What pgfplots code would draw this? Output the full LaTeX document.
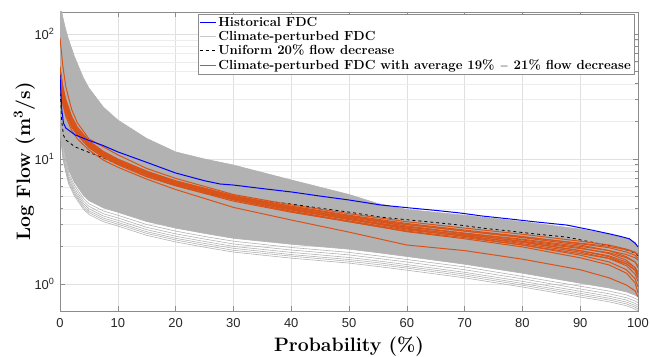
\documentclass[border=0pt]{standalone}
\usepackage{pgfplots}
\pgfplotsset{compat=1.18}
\usepackage{pgfplotstable}
\usepgfplotslibrary{fillbetween}
\usepackage{fontspec}
\setsansfont{Liberation Sans}
\definecolor{mlorange}{RGB}{217,83,25}
\definecolor{fdcgrey}{rgb}{0.70,0.70,0.70}
\definecolor{axgrey}{rgb}{0.55,0.55,0.55}

\pgfplotstableread{
x     U     L1    L2    L3    L4    L5    L6    L7
0     180   17    17.6  18.2  18.9  19.7  20.7  21.9
0.5   135   10    10.35 10.7  11.1  11.6  12.2  12.9
1     108   7.8   8.07  8.35  8.66  9.05  9.52  10.06
1.5   90    6.3   6.52  6.74  6.99  7.31  7.69  8.13
2.5   66    5.05  5.23  5.40  5.61  5.86  6.16  6.51
4     45    4.0   4.14  4.28  4.44  4.64  4.88  5.16
5     37    3.6   3.73  3.85  4.0   4.18  4.39  4.64
7.5   26    3.15  3.26  3.37  3.50  3.65  3.84  4.06
10    20.5  2.91  3.01  3.11  3.23  3.38  3.55  3.75
15    14.6  2.45  2.54  2.62  2.72  2.84  2.99  3.16
20    11.4  2.17  2.25  2.32  2.41  2.52  2.65  2.80
25    10.0  1.97  2.04  2.11  2.19  2.29  2.40  2.54
30    8.95  1.80  1.86  1.93  2.0   2.09  2.20  2.32
40    6.8   1.61  1.67  1.72  1.79  1.87  1.96  2.08
50    5.2   1.47  1.52  1.57  1.63  1.71  1.79  1.90
55    4.4   1.38  1.43  1.48  1.53  1.60  1.68  1.78
60    3.95  1.29  1.34  1.38  1.43  1.50  1.57  1.66
70    3.55  1.12  1.16  1.20  1.24  1.30  1.37  1.44
80    3.15  0.946 0.979 1.01  1.05  1.10  1.15  1.22
90    2.75  0.787 0.815 0.842 0.874 0.913 0.960 1.015
95    2.5   0.72  0.745 0.770 0.799 0.835 0.878 0.929
98    2.33  0.67  0.693 0.717 0.744 0.777 0.817 0.864
99.5  2.15  0.63  0.652 0.674 0.699 0.731 0.769 0.813
100   1.95  0.61  0.631 0.653 0.677 0.708 0.744 0.787
}\greytab

\pgfplotstableread{
x     o1   o2   o3   o4   o5   o6   o7   o8   o9   o10  o11  o12  o13  o14
0     93   53   48   45   55   42   50   40   38   44   47   41   52   46
0.5   55   38   34   32   36   31   35   29   27   32   33   30   37   33
1     38   30   27   25   28   25   27   23   22   25.5 26   24   29   26
2     25   22   20   19   21   19.5 20   18   17   19.5 19.8 18.5 21.5 20
3     19.5 18   16.5 16   17   16.5 16.5 15.5 14.5 16.2 16.4 15.6 17.5 16.5
5     14.5 14   13.2 12.8 13.5 13.0 13.0 12.3 11.8 12.9 13.1 12.5 13.8 13.3
7.5   12.5 11.5 11.0 10.6 11.2 10.8 10.9 10.3 9.8  10.7 10.9 10.5 11.4 11.0
10    10.8 10.0 9.6  9.3  9.8  9.4  9.5  9.0  8.6  9.35 9.5  9.15 9.9  9.6
15    8.4  8.0  7.7  7.5  7.8  7.6  7.6  7.2  6.9  7.45 7.6  7.3  7.9  7.65
20    7.0  6.7  6.5  6.3  6.6  6.4  6.35 6.1  5.7  6.25 6.4  6.15 6.65 6.45
30    5.2  5.1  5.0  4.85 5.0  4.9  4.75 4.6  4.1  4.8  4.95 4.7  5.05 4.9
40    4.3  4.2  4.1  4.0  4.05 3.95 3.8  3.75 3.25 3.9  4.0  3.82 4.15 3.95
50    3.65 3.55 3.5  3.4  3.35 3.3  3.15 3.15 2.6  3.28 3.45 3.2  3.5  3.3
60    3.15 3.05 3.0  2.9  2.8  2.75 2.62 2.65 2.05 2.78 2.98 2.7  2.9  2.85
70    2.8  2.7  2.65 2.55 2.45 2.4  2.3  2.35 1.85 2.48 2.65 2.42 2.52 2.55
80    2.5  2.4  2.35 2.25 2.1  2.05 1.98 2.05 1.58 2.2  2.38 2.15 2.18 2.28
90    2.2  2.1  2.05 1.95 1.8  1.7  1.62 1.75 1.3  1.92 2.12 1.85 1.85 2.0
95    2.05 1.95 1.85 1.75 1.6  1.5  1.42 1.6  1.12 1.78 2.0  1.68 1.65 1.85
98    1.9  1.8  1.65 1.55 1.4  1.3  1.22 1.45 0.98 1.62 1.88 1.5  1.45 1.72
99.5  1.8  1.7  1.5  1.35 1.2  1.1  1.02 1.3  0.88 1.5  1.78 1.35 1.28 1.62
100   1.72 1.6  1.35 1.2  1.05 0.95 0.85 1.15 0.79 1.4  1.7  1.25 1.12 1.55
}\orangetab

\pgfplotstableread{
x     hist   unif
0     47     37.6
0.3   25     20.0
0.6   19.4   15.5
1     17.7   14.2
2.6   15.6   12.5
4.8   14.2   11.4
7.5   12.8   10.2
10    11.4   9.12
15    9.4    7.52
20    7.73   6.18
25    6.7    5.36
27.7  6.31   5.05
30    6.19   4.95
35    5.8    4.64
40    5.45   4.36
45    5.05   4.04
50    4.70   3.76
55.4  4.29   3.43
60.5  4.06   3.25
65    3.88   3.10
69.2  3.70   2.96
73    3.50   2.80
77.9  3.31   2.65
82    3.15   2.52
87.7  2.96   2.37
92    2.70   2.16
95.2  2.51   2.01
97    2.40   1.92
98.5  2.30   1.85
99.5  2.12   1.76
100   1.98   1.68
}\histtab

\begin{document}
\begin{tikzpicture}
\begin{axis}[
  at={(60bp,46bp)}, anchor=south west,
  scale only axis, width=578bp, height=299bp,
  xmin=0, xmax=100, ymode=log, ymin=0.608, ymax=150,
  xtick={0,10,...,100},
  ytick={1,10,100},
  yticklabels={10\textsuperscript{0},10\textsuperscript{1},10\textsuperscript{2}},
  /pgf/number format/assume math mode=true,
  tick align=inside,
  major tick length=5bp, minor tick length=3bp,
  tick style={axgrey, line width=0.5bp},
  axis line style={axgrey, line width=0.6bp},
  grid=both,
  major grid style={black!12, line width=0.5bp},
  minor grid style={black!7, line width=0.4bp},
  ticklabel style={font=\sffamily\fontsize{13}{13}\selectfont, text=black!85},
  xticklabel style={yshift=-4bp},
  yticklabel style={xshift=-2bp},
  xlabel={Probability (\%)},
  ylabel={Log Flow (m\textsuperscript{3}/s)},
  label style={font=\fontsize{19.5}{20}\selectfont\bfseries},
  xlabel style={at={(axis description cs:0.5,-0.1338)}, anchor=base},
  ylabel style={at={(axis description cs:-0.0519,0.5)}, anchor=base},
  legend style={at={(rel axis cs:0.993,0.993)}, anchor=north east,
    font=\fontsize{13.2}{15}\selectfont, draw=axgrey,
    inner sep=1bp, row sep=-0.8bp},
  legend cell align=left,
  legend image code/.code={\draw[#1] (0bp,0bp) -- (16bp,0bp);},
]
\addlegendimage{blue, line width=1.1bp}
\addlegendentry{\textbf{Historical FDC}}
\addlegendimage{black!22, line width=1.3bp}
\addlegendentry{\textbf{Climate-perturbed FDC}}
\addlegendimage{black, dashed, line width=0.9bp}
\addlegendentry{\textbf{Uniform 20\% flow decrease}}
\addlegendimage{color=mlorange, line width=1.3bp}
\addlegendentry{\textbf{Climate-perturbed FDC with average 19\% $-$ 21\% flow decrease}}

% grey ensemble
\addplot[fdcgrey, line width=0.6bp, name path=U, forget plot] table[x=x,y=U] {\greytab};
\addplot[fdcgrey, line width=0.6bp, name path=L, forget plot] table[x=x,y=L7] {\greytab};
\addplot[fdcgrey, forget plot] fill between[of=U and L];
\addplot[fdcgrey, line width=0.6bp, forget plot] table[x=x,y=L1] {\greytab};
\addplot[fdcgrey, line width=0.6bp, forget plot] table[x=x,y=L2] {\greytab};
\addplot[fdcgrey, line width=0.6bp, forget plot] table[x=x,y=L3] {\greytab};
\addplot[fdcgrey, line width=0.6bp, forget plot] table[x=x,y=L4] {\greytab};
\addplot[fdcgrey, line width=0.6bp, forget plot] table[x=x,y=L5] {\greytab};
\addplot[fdcgrey, line width=0.6bp, forget plot] table[x=x,y=L6] {\greytab};

% uniform decrease
\addplot[black, dashed, line width=0.8bp, forget plot] table[x=x,y=unif] {\histtab};

% orange
\addplot[mlorange, line width=1bp, forget plot] table[x=x,y=o1] {\orangetab};
\addplot[mlorange, line width=1bp, forget plot] table[x=x,y=o2] {\orangetab};
\addplot[mlorange, line width=1bp, forget plot] table[x=x,y=o3] {\orangetab};
\addplot[mlorange, line width=1bp, forget plot] table[x=x,y=o4] {\orangetab};
\addplot[mlorange, line width=1bp, forget plot] table[x=x,y=o5] {\orangetab};
\addplot[mlorange, line width=1bp, forget plot] table[x=x,y=o6] {\orangetab};
\addplot[mlorange, line width=1bp, forget plot] table[x=x,y=o7] {\orangetab};
\addplot[mlorange, line width=1bp, forget plot] table[x=x,y=o8] {\orangetab};
\addplot[mlorange, line width=1bp, forget plot] table[x=x,y=o9] {\orangetab};
\addplot[mlorange, line width=1bp, forget plot] table[x=x,y=o10] {\orangetab};
\addplot[mlorange, line width=1bp, forget plot] table[x=x,y=o11] {\orangetab};
\addplot[mlorange, line width=1bp, forget plot] table[x=x,y=o12] {\orangetab};
\addplot[mlorange, line width=1bp, forget plot] table[x=x,y=o13] {\orangetab};
\addplot[mlorange, line width=1bp, forget plot] table[x=x,y=o14] {\orangetab};

% historical
\addplot[blue, line width=1bp, forget plot] table[x=x,y=hist] {\histtab};
\end{axis}
\pgfresetboundingbox
\path[use as bounding box] (0,0) rectangle (650bp,357bp);
\end{tikzpicture}
\end{document}
